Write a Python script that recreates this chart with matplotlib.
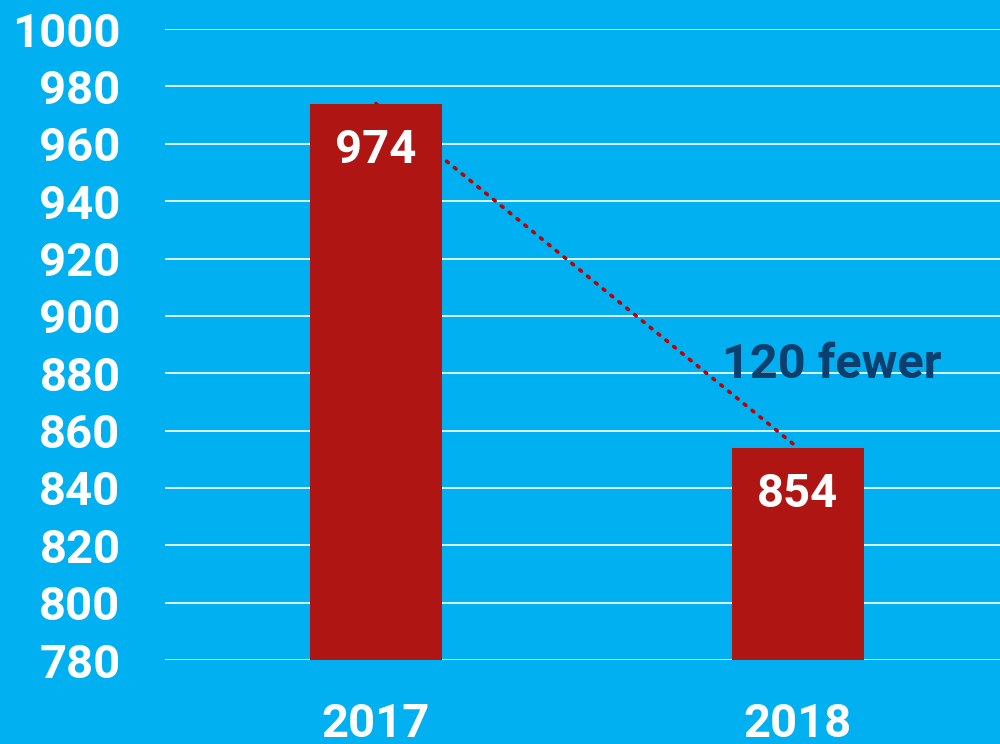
import matplotlib.pyplot as plt

years = ["2017", "2018"]
counts = [974, 854]
yticks = [780, 800, 820, 840, 860, 880, 900, 920, 940, 960, 980, 1000]
note = "120 fewer"

bg = "#00B0F0"
bar_color = "#AE1513"

plt.rcParams["font.family"] = ["Roboto", "DejaVu Sans"]
plt.rcParams["font.weight"] = "bold"

fig = plt.figure(figsize=(10, 7.44), dpi=100, facecolor=bg)
ax = fig.add_axes([0.165, 0.1129, 0.835, 0.848], facecolor=bg)

x = list(range(len(years)))
ax.bar(x, [c - yticks[0] for c in counts], bottom=yticks[0], width=0.313,
       color=bar_color, zorder=3)

# dotted connector between bar tops, behind the bars
ax.plot(x, counts, linestyle=(0, (0.6, 2.2)), color="#C00000", linewidth=2.6,
        dash_capstyle="round", zorder=2)

for xi, c in zip(x, counts):
    ax.text(xi, c - 16, str(c), ha="center", va="center", color="white",
            fontsize=34, fontweight="bold", zorder=4)

ax.text(1.08, 883, note, ha="center", va="center", color="#0B3F6E",
        fontsize=35, fontweight="bold", zorder=4)

ax.set_ylim(yticks[0], yticks[-1])
ax.set_xlim(-0.5, 1.479)
ax.set_yticks(yticks)
ax.set_xticks(x)
ax.set_xticklabels(years)
ax.yaxis.grid(True, color="white", linewidth=1.2, zorder=1)
ax.set_axisbelow(True)
for s in ax.spines.values():
    s.set_visible(False)
ax.tick_params(axis="y", length=0, pad=32, labelsize=34, labelcolor="white")
ax.tick_params(axis="x", length=0, pad=30, labelsize=34, labelcolor="white")

fig.savefig("out.png", dpi=100, facecolor=bg)
